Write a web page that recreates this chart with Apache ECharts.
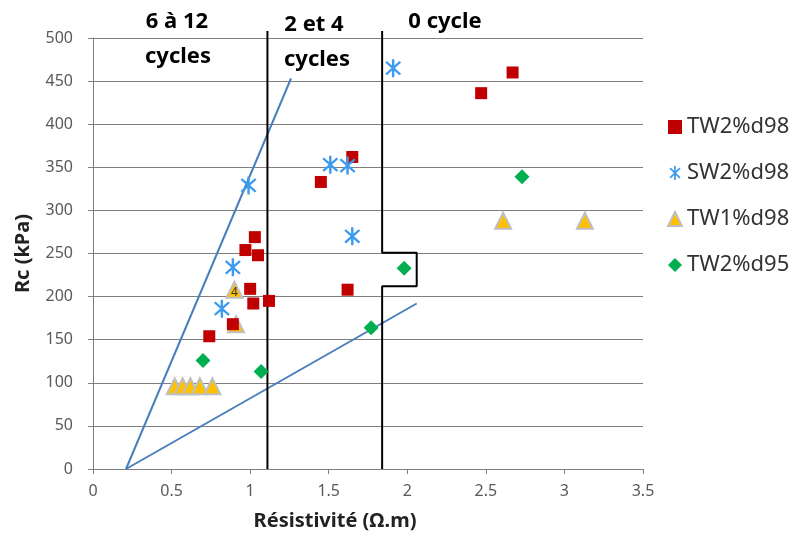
<!DOCTYPE html>
<html>
<head>
<meta charset="utf-8">
<script src="https://cdn.jsdelivr.net/npm/echarts@6/dist/echarts.min.js"></script>
</head>
<body style="margin:0;background:#fff;">
<div id="main" style="width:792px;height:540px;"></div>
<script>
// points [resistivity (ohm.m), Rc (kPa)]
var tw2d98 = [[2.67, 460], [2.47, 436], [1.65, 362], [1.45, 333], [1.03, 269], [0.97, 254], [1.05, 248],
              [1.0, 209], [1.02, 192], [1.12, 195], [0.89, 168], [0.74, 154], [1.62, 208]];
var sw2d98 = [[1.91, 465], [1.51, 353], [1.62, 352], [1.65, 270], [0.99, 329], [0.89, 234], [0.82, 186]];
var tw1d98 = [[2.61, 288], [3.13, 288], [0.9, 208], [0.91, 168],
              [0.52, 96], [0.57, 96], [0.62, 96], [0.68, 96], [0.76, 96]];
var tw2d95 = [[2.73, 339], [1.98, 233], [1.77, 164], [0.7, 126], [1.07, 113]];
var labelledPoint = 2; // the triangle carrying the "4" label

// guide lines
var upperLine = [[0.21, 0], [1.26, 453]];
var lowerLine = [[0.21, 0], [2.06, 192]];
var border1 = [[1.11, 0], [1.11, 508]];
var border2 = [[1.84, 0], [1.84, 212], [2.06, 212], [2.06, 251], [1.84, 251], [1.84, 508]];

var xTicks = [0, 3.5, 0.5];
var yTicks = [0, 500, 50];

var asterisk = 'path://M-1.2,-10L1.2,-10L1.2,10L-1.2,10Z' +
  'M-7.92,-6.22L-6.22,-7.92L7.92,6.22L6.22,7.92Z' +
  'M-6.22,7.92L-7.92,6.22L6.22,-7.92L7.92,-6.22Z';

var chart = echarts.init(document.getElementById('main'));
var font = '"Noto Sans", "Open Sans", sans-serif';

function guide(data, color) {
  return {
    type: 'line', data: data, symbol: 'none', silent: true, clip: false,
    lineStyle: { color: color, width: 2 }, z: 1
  };
}

var tw1Data = tw1d98.map(function (p, i) {
  if (i !== labelledPoint) return p;
  return {
    value: p,
    label: { show: true, position: 'inside', formatter: '4', fontSize: 12, color: '#333', offset: [0, 3], fontFamily: font }
  };
});

var option = {
  animation: false,
  textStyle: { fontFamily: font },
  grid: { left: 93, right: 149, top: 38, bottom: 71 },
  xAxis: {
    type: 'value', min: xTicks[0], max: xTicks[1], interval: xTicks[2],
    name: 'Résistivité (Ω.m)', nameLocation: 'middle', nameGap: 42,
    nameTextStyle: { fontSize: 20, fontWeight: 'bold', color: '#222', padding: [0, 66, 0, 0] },
    axisLine: { lineStyle: { color: '#7f7f7f' } },
    axisTick: { lineStyle: { color: '#7f7f7f' }, length: 5 },
    axisLabel: { fontSize: 16, color: '#595959', margin: 14 },
    splitLine: { show: false }
  },
  yAxis: {
    type: 'value', min: yTicks[0], max: yTicks[1], interval: yTicks[2],
    name: 'Rc (kPa)', nameLocation: 'middle', nameGap: 60,
    nameTextStyle: { fontSize: 20, fontWeight: 'bold', color: '#222' },
    axisLine: { show: true, lineStyle: { color: '#7f7f7f' } },
    axisTick: { show: true, lineStyle: { color: '#7f7f7f' }, length: 5 },
    axisLabel: { fontSize: 16, color: '#595959', margin: 20 },
    splitLine: { lineStyle: { color: '#7f7f7f' } }
  },
  legend: {
    orient: 'vertical', left: 662, top: 111, itemGap: 24, itemWidth: 14, itemHeight: 14,
    textStyle: { fontSize: 22, color: '#333' },
    data: [
      { name: 'TW2%d98', icon: 'rect' },
      { name: 'SW2%d98', icon: asterisk },
      { name: 'TW1%d98', icon: 'triangle' },
      { name: 'TW2%d95', icon: 'diamond' }
    ]
  },
  graphic: [
    { type: 'text', x: 177, y: 22, style: { text: '6 à 12', font: 'bold 22px ' + font, fill: '#000', align: 'center', verticalAlign: 'middle' } },
    { type: 'text', x: 178, y: 57, style: { text: 'cycles', font: 'bold 22px ' + font, fill: '#000', align: 'center', verticalAlign: 'middle' } },
    { type: 'text', x: 314, y: 25, style: { text: '2 et 4', font: 'bold 22px ' + font, fill: '#000', align: 'center', verticalAlign: 'middle' } },
    { type: 'text', x: 317, y: 60, style: { text: 'cycles', font: 'bold 22px ' + font, fill: '#000', align: 'center', verticalAlign: 'middle' } },
    { type: 'text', x: 445, y: 22, style: { text: '0 cycle', font: 'bold 22px ' + font, fill: '#000', align: 'center', verticalAlign: 'middle' } }
  ],
  series: [
    guide(upperLine, '#4A7EBB'),
    guide(lowerLine, '#4A7EBB'),
    guide(border1, '#000'),
    guide(border2, '#000'),
    {
      name: 'TW2%d98', type: 'scatter', data: tw2d98, symbol: 'rect', symbolSize: 12, z: 3,
      itemStyle: { color: '#C00000', opacity: 1 }
    },
    {
      name: 'SW2%d98', type: 'scatter', data: sw2d98, symbol: asterisk, symbolSize: [16, 18], z: 3,
      itemStyle: { color: '#3C9BF0', opacity: 1 }
    },
    {
      name: 'TW1%d98', type: 'scatter', data: tw1Data, symbol: 'triangle', symbolSize: 16, z: 2,
      itemStyle: { color: '#FFC000', borderColor: '#BFBFBF', borderWidth: 2, opacity: 1 }
    },
    {
      name: 'TW2%d95', type: 'scatter', data: tw2d95, symbol: 'diamond', symbolSize: 15, z: 3,
      itemStyle: { color: '#00B050', opacity: 1 }
    }
  ]
};
chart.setOption(option);
</script>
</body>
</html>
